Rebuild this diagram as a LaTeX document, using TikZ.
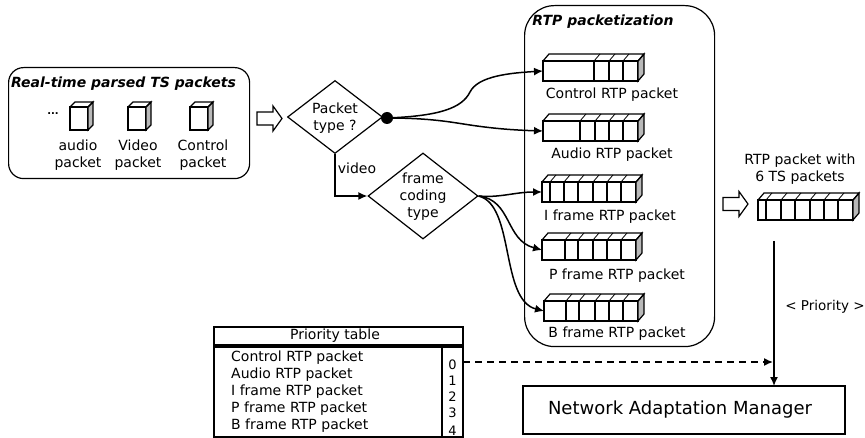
\documentclass[tikz,border=0pt]{standalone}
\usepackage{fontspec}
\setmainfont{DejaVu Sans}
\usepackage{tikz}
\usetikzlibrary{shapes.geometric,arrows.meta}

\tikzset{
    label text/.style={inner sep=0pt,font=\fontsize{14}{17}\selectfont,align=center},
    title text/.style={inner sep=0pt,font=\fontsize{14}{17}\selectfont\bfseries\itshape},
    row text/.style={inner sep=0pt,anchor=west,font=\fontsize{14}{17}\selectfont},
    rank text/.style={inner sep=0pt,font=\fontsize{13}{16}\selectfont},
    round box/.style={draw,line width=1.2pt,rectangle,rounded corners=#1},
    decision/.style={draw,line width=1.2pt,diamond,inner sep=0pt},
    hollow arrow/.style={draw,line width=1.2pt},
    pkt front/.style={draw,line width=1.2pt,rectangle,inner sep=0pt,outer sep=0pt,anchor=north west},
    flow/.style={line width=1.5pt,-{Latex[length=9pt,width=8pt]}},
    table box/.style={draw,line width=1.2pt,rectangle,inner sep=0pt,outer sep=0pt,anchor=north west},
}

% name, left, top of the front face, width, cell lines
\newcommand{\pktblock}[5]{
    \draw (#2,#3) node[pkt front,minimum width=#4,minimum height=20](#1){};
    \draw[line width=1.2pt,fill=gray!55] (#1.north east) -- ++(6,-7) -- ++(0,20) -- (#1.south east) -- cycle;
    \draw[line width=1.2pt] (#1.north west) -- ++(6,-7) -- ++(#4,0) -- (#1.north east);
    \foreach \cellx in {#5} {
        \draw[line width=1.2pt] (\cellx,#3) -- ++(0,20);
        \draw[line width=.8pt] (\cellx,#3) -- ++(6,-7);
    }
}
% name, left, top of the front face
\newcommand{\tsbox}[3]{
    \draw (#2,#3) node[pkt front,minimum width=18,minimum height=23](#1){};
    \draw[line width=1.2pt,fill=gray!55] (#1.north east) -- ++(5,-5) -- ++(0,23) -- (#1.south east) -- cycle;
    \draw[line width=1.2pt] (#1.north west) -- ++(5,-5) -- ++(18,0) -- (#1.north east);
}
% left, middle height
\newcommand{\bigarrow}[2]{
    \draw[hollow arrow] (#1,#2) ++(0,-6.5) -- ++(16,0) -- ++(0,-6) -- ++(9,12.5) -- ++(-9,12.5) -- ++(0,-6) -- ++(-16,0) -- cycle;
}

\begin{document}
\begin{tikzpicture}[x=1pt,y=-1pt]
    \useasboundingbox (0,0) rectangle (865,438);

    \draw (8,67) node[round box=15,anchor=north west,minimum width=241,minimum height=111](tsgroup){};
    \draw (123.5,84) node[title text](tstitle){Real-time parsed TS packets};
    \draw (53,114) node[label text,font=\bfseries](tsdots){...};
    \tsbox{tsaudio}{70}{107}
    \tsbox{tsvideo}{128}{107}
    \tsbox{tscontrol}{190}{107}
    \draw (78,155) node[label text](lbaudio){audio\\packet};
    \draw (138,155) node[label text](lbvideo){Video\\packet};
    \draw (203,155) node[label text](lbcontrol){Control\\packet};

    \bigarrow{257}{118.5}

    \draw (335,117) node[decision,aspect=1.3,minimum width=95,minimum height=73](ptype){};
    \draw (335,118) node[label text](lbptype){Packet\\type ?};
    \draw (387,118) node[circle,fill,inner sep=0pt,minimum size=12](dot){};
    \draw (423,196) node[decision,aspect=1.28,minimum width=110,minimum height=86](fcode){};
    \draw (423,197) node[label text](lbfcode){frame\\coding\\type};
    \draw (357,168) node[label text](lbvideoflow){video};

    \draw (524,5) node[round box=30,anchor=north west,minimum width=190,minimum height=341](rtpgroup){};
    \draw (603,22) node[title text](rtptitle){RTP packetization};

    \pktblock{pktcontrol}{543}{61}{95}{594,609,623}
    \pktblock{pktaudio}{543}{121}{95}{580,595,609,623}
    \pktblock{pkti}{542}{182}{94}{550,564,578,593,607,621}
    \pktblock{pktp}{542}{240}{94}{565,578,593,607,621}
    \pktblock{pktb}{544}{301}{94}{566,579,595,609,623}
    \draw (612,95) node[label text](lbcontrolpkt){Control RTP packet};
    \draw (612,155) node[label text](lbaudiopkt){Audio RTP packet};
    \draw (610,217) node[label text](lbipkt){I frame RTP packet};
    \draw (617,276) node[label text](lbppkt){P frame RTP packet};
    \draw (617,334) node[label text](lbbpkt){B frame RTP packet};

    \draw[flow] (dot.center) .. controls (440,116) and (462,108) .. (470,92) .. controls (478,76) and (510,73) .. (pktcontrol.west);
    \draw[flow] (dot.center) .. controls (430,118) and (450,122) .. (470,125) .. controls (490,128) and (510,130) .. (pktaudio.west);
    \draw[flow] (ptype.south) -- (ptype.south |- fcode.west) -- (fcode.west);
    \draw[flow] (fcode.east) .. controls (500,198) and (515,192) .. (pkti.west);
    \draw[flow] (fcode.east) .. controls (512,200) and (505,240) .. (pktp.west);
    \draw[flow] (fcode.east) .. controls (515,205) and (500,300) .. (pktb.west);

    \bigarrow{723}{204}
    \draw (800,169.5) node[label text](lbtotal){RTP packet with\\6 TS packets};
    \pktblock{pkttotal}{758}{200}{95}{766,781,795,810,824,838}

    \coordinate (prioline) at (774,241);
    \coordinate (priojoin) at (773,362);
    \draw (825,307) node[label text,font=\fontsize{13.5}{16}\selectfont](lbprio){< Priority >};
    \draw (523,386) node[table box,minimum width=322,minimum height=48](nam){};
    \draw (680,410) node[label text,font=\fontsize{18}{20}\selectfont](lbnam){Network Adaptation Manager};
    \draw[flow] (prioline) -- (prioline |- nam.north);

    \draw (214,327) node[table box,minimum width=249,minimum height=18](priohead){};
    \draw (335,336) node[label text](lbhead){Priority table};
    \draw (214,347) node[table box,minimum width=249,minimum height=90](priobody){};
    \draw (442,347) node[table box,minimum width=21,minimum height=90](priocol){};

    \draw (231,358) node[row text](rowa){Control RTP packet};
    \draw (231,375) node[row text](rowb){Audio RTP packet};
    \draw (231,392) node[row text](rowc){I frame RTP packet};
    \draw (231,409) node[row text](rowd){P frame RTP packet};
    \draw (231,426) node[row text](rowe){B frame RTP packet};
    \draw (452.5,365) node[rank text](rankzero){0};
    \draw (452.5,381) node[rank text](rankone){1};
    \draw (452.5,397) node[rank text](ranktwo){2};
    \draw (452.5,413) node[rank text](rankthree){3};
    \draw (452.5,431) node[rank text](rankfour){4};

    \draw[flow,dash pattern=on 7pt off 5pt] (priobody.east |- priojoin) -- (priojoin);
\end{tikzpicture}
\end{document}
